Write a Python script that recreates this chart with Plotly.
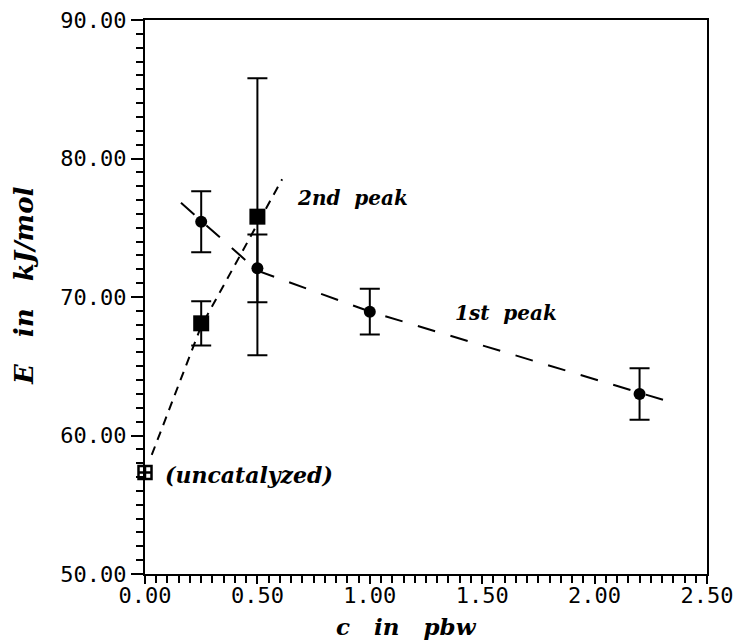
import plotly.graph_objects as go

# ---- data ----
# 1st peak (filled circles)
c1 = [0.25, 0.50, 1.00, 2.20]
e1 = [75.43, 72.07, 68.94, 63.0]
e1_err = [2.2, 2.45, 1.65, 1.86]

# 2nd peak (filled squares)
c2 = [0.25, 0.50]
e2 = [68.1, 75.8]
e2_err = [1.6, 10.0]

# uncatalyzed (open square)
c0 = [0.0]
e0 = [57.33]

# dashed guide lines
fit1_x = [0.16, 0.50, 1.00, 2.32]
fit1_y = [76.8, 71.9, 68.95, 62.5]
fit2_x = [0.03, 0.25, 0.61]
fit2_y = [58.6, 67.9, 78.5]

x_ticks = [0.0, 0.5, 1.0, 1.5, 2.0, 2.5]
y_ticks = [50, 60, 70, 80, 90]

labels = [
    ("2nd&nbsp;&nbsp;peak", 0.669, 77.14, 20),
    ("1st&nbsp;&nbsp;peak", 1.370, 68.85, 20),
    ("(uncatalyzed)", 0.082, 57.16, 22),
]

TXT = "DejaVu Serif"
MONO = "DejaVu Sans Mono"

fig = go.Figure()

fig.add_trace(go.Scatter(x=fit2_x, y=fit2_y, mode="lines",
                         line=dict(color="black", width=2, dash="9px,7px"),
                         showlegend=False))
fig.add_trace(go.Scatter(x=fit1_x, y=fit1_y, mode="lines",
                         line=dict(color="black", width=2, dash="18px,16px"),
                         showlegend=False))

fig.add_trace(go.Scatter(x=c1, y=e1, mode="markers",
                         marker=dict(symbol="circle", size=12, color="black"),
                         error_y=dict(type="data", array=e1_err, color="black",
                                      thickness=2, width=10),
                         showlegend=False))
fig.add_trace(go.Scatter(x=c2, y=e2, mode="markers",
                         marker=dict(symbol="square", size=16, color="black"),
                         error_y=dict(type="data", array=e2_err, color="black",
                                      thickness=2, width=10),
                         showlegend=False))
fig.add_trace(go.Scatter(x=c0, y=e0, mode="markers",
                         marker=dict(symbol="square-cross-open", size=13, color="black",
                                     line=dict(width=2.5, color="black")),
                         cliponaxis=False, showlegend=False))

for txt, x, y, sz in labels:
    fig.add_annotation(x=x, y=y, xref="x", yref="y", text=f"<b><i>{txt}</i></b>",
                       showarrow=False, xanchor="left", yanchor="middle",
                       font=dict(family=TXT, size=sz, color="black"))

fig.add_annotation(x=0.465, y=-0.094, xref="paper", yref="paper",
                   text="<b><i>c&nbsp;&nbsp;&nbsp;in&nbsp;&nbsp;&nbsp;pbw</i></b>",
                   showarrow=False, xanchor="center", yanchor="middle",
                   font=dict(family=TXT, size=23, color="black"))
fig.add_annotation(x=-0.214, y=0.521, xref="paper", yref="paper",
                   text="<b><i>E&nbsp;&nbsp;&nbsp;in&nbsp;&nbsp;&nbsp;kJ/mol</i></b>",
                   showarrow=False, textangle=-90, xanchor="center", yanchor="middle",
                   font=dict(family=TXT, size=26, color="black"))

fig.update_xaxes(range=[0, 2.5], tickvals=x_ticks, tickformat=".2f",
                 showline=True, linecolor="black", linewidth=2, mirror=True,
                 ticks="outside", ticklen=8, tickwidth=2, tickcolor="black",
                 minor=dict(dtick=0.05, ticks="outside", ticklen=7, tickwidth=1.5,
                            tickcolor="black", showgrid=False),
                 showgrid=False, zeroline=False, automargin=False,
                 ticklabelstandoff=-7,
                 tickfont=dict(family=MONO, size=22, color="black"))
fig.update_yaxes(range=[50, 90], tickvals=y_ticks, tickformat=".2f",
                 showline=True, linecolor="black", linewidth=2, mirror=True,
                 ticks="outside", ticklen=12, tickwidth=2, tickcolor="black",
                 minor=dict(dtick=1, ticks="outside", ticklen=7, tickwidth=1.5,
                            tickcolor="black", showgrid=False),
                 showgrid=False, zeroline=False, automargin=False,
                 tickfont=dict(family=MONO, size=22, color="black"))

fig.update_layout(width=735, height=642,
                  margin=dict(l=144.5, r=27.7, t=19.7, b=67.7),
                  paper_bgcolor="white", plot_bgcolor="white",
                  showlegend=False)

fig.write_html("out.html")
